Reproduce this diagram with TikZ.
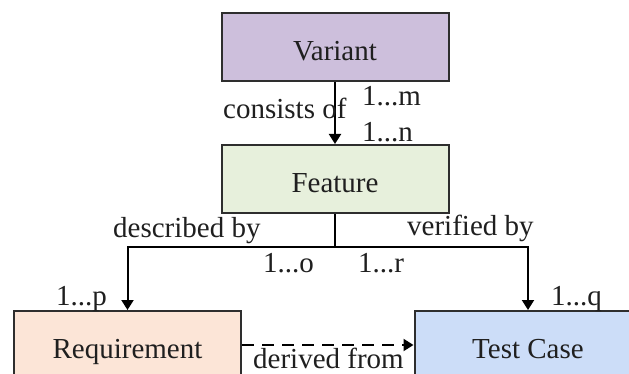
\documentclass[tikz,border=0pt]{standalone}
\usepackage{fontspec}
\setmainfont{Liberation Serif}
\usetikzlibrary{arrows.meta}
\definecolor{cvar}{HTML}{CDBFDC}
\definecolor{cfeat}{HTML}{E7F0DC}
\definecolor{creq}{HTML}{FCE5D7}
\definecolor{ctest}{HTML}{CCDDF8}
\definecolor{cline}{HTML}{2E2E2E}
\begin{document}
\begin{tikzpicture}[x=1pt,y=-1pt,
  font=\fontsize{29}{31}\selectfont,
  box/.style={draw=cline, line width=2pt, minimum width=227pt, minimum height=68pt, inner sep=0pt,
    text height=29pt, text depth=2pt, text=black!88},
  lbl/.style={inner sep=0pt, anchor=base west, text=black!88},
  conn/.style={draw=black, line width=2pt},
  arr/.style={conn, -{Triangle[width=12pt,length=10pt]}}]
\clip (0,0) rectangle (629,374);
\node[box, fill=cvar] (V) at (335,47) {Variant};
\node[box, fill=cfeat] (F) at (335,179) {Feature};
\node[box, fill=creq] (R) at (127.5,345) {Requirement};
\node[box, fill=ctest] (T) at (528,345) {Test Case};
\draw[arr] (V.south) -- (F.north);
\draw[conn] (F.south) -- ++(0,33) coordinate (J);
\draw[arr] (J) -| (R.north);
\draw[arr] (J) -| (T.north);
\draw[arr, dash pattern=on 12pt off 8pt] (R.east) -- (T.west);
\node[lbl] (lcons) at (223,119) {consists of};
\node[lbl] (lm) at (362,106) {1...m};
\node[lbl] (ln) at (362,142) {1...n};
\node[lbl] (ldesc) at (113,237) {described by};
\node[lbl] (lver) at (407,236) {verified by};
\node[lbl] (lo) at (263,272) {1...o};
\node[lbl] (lr) at (358,272) {1...r};
\node[lbl] (lp) at (56,305) {1...p};
\node[lbl] (lq) at (551,305) {1...q};
\node[lbl] (lder) at (253,368) {derived from};
\end{tikzpicture}
\end{document}
